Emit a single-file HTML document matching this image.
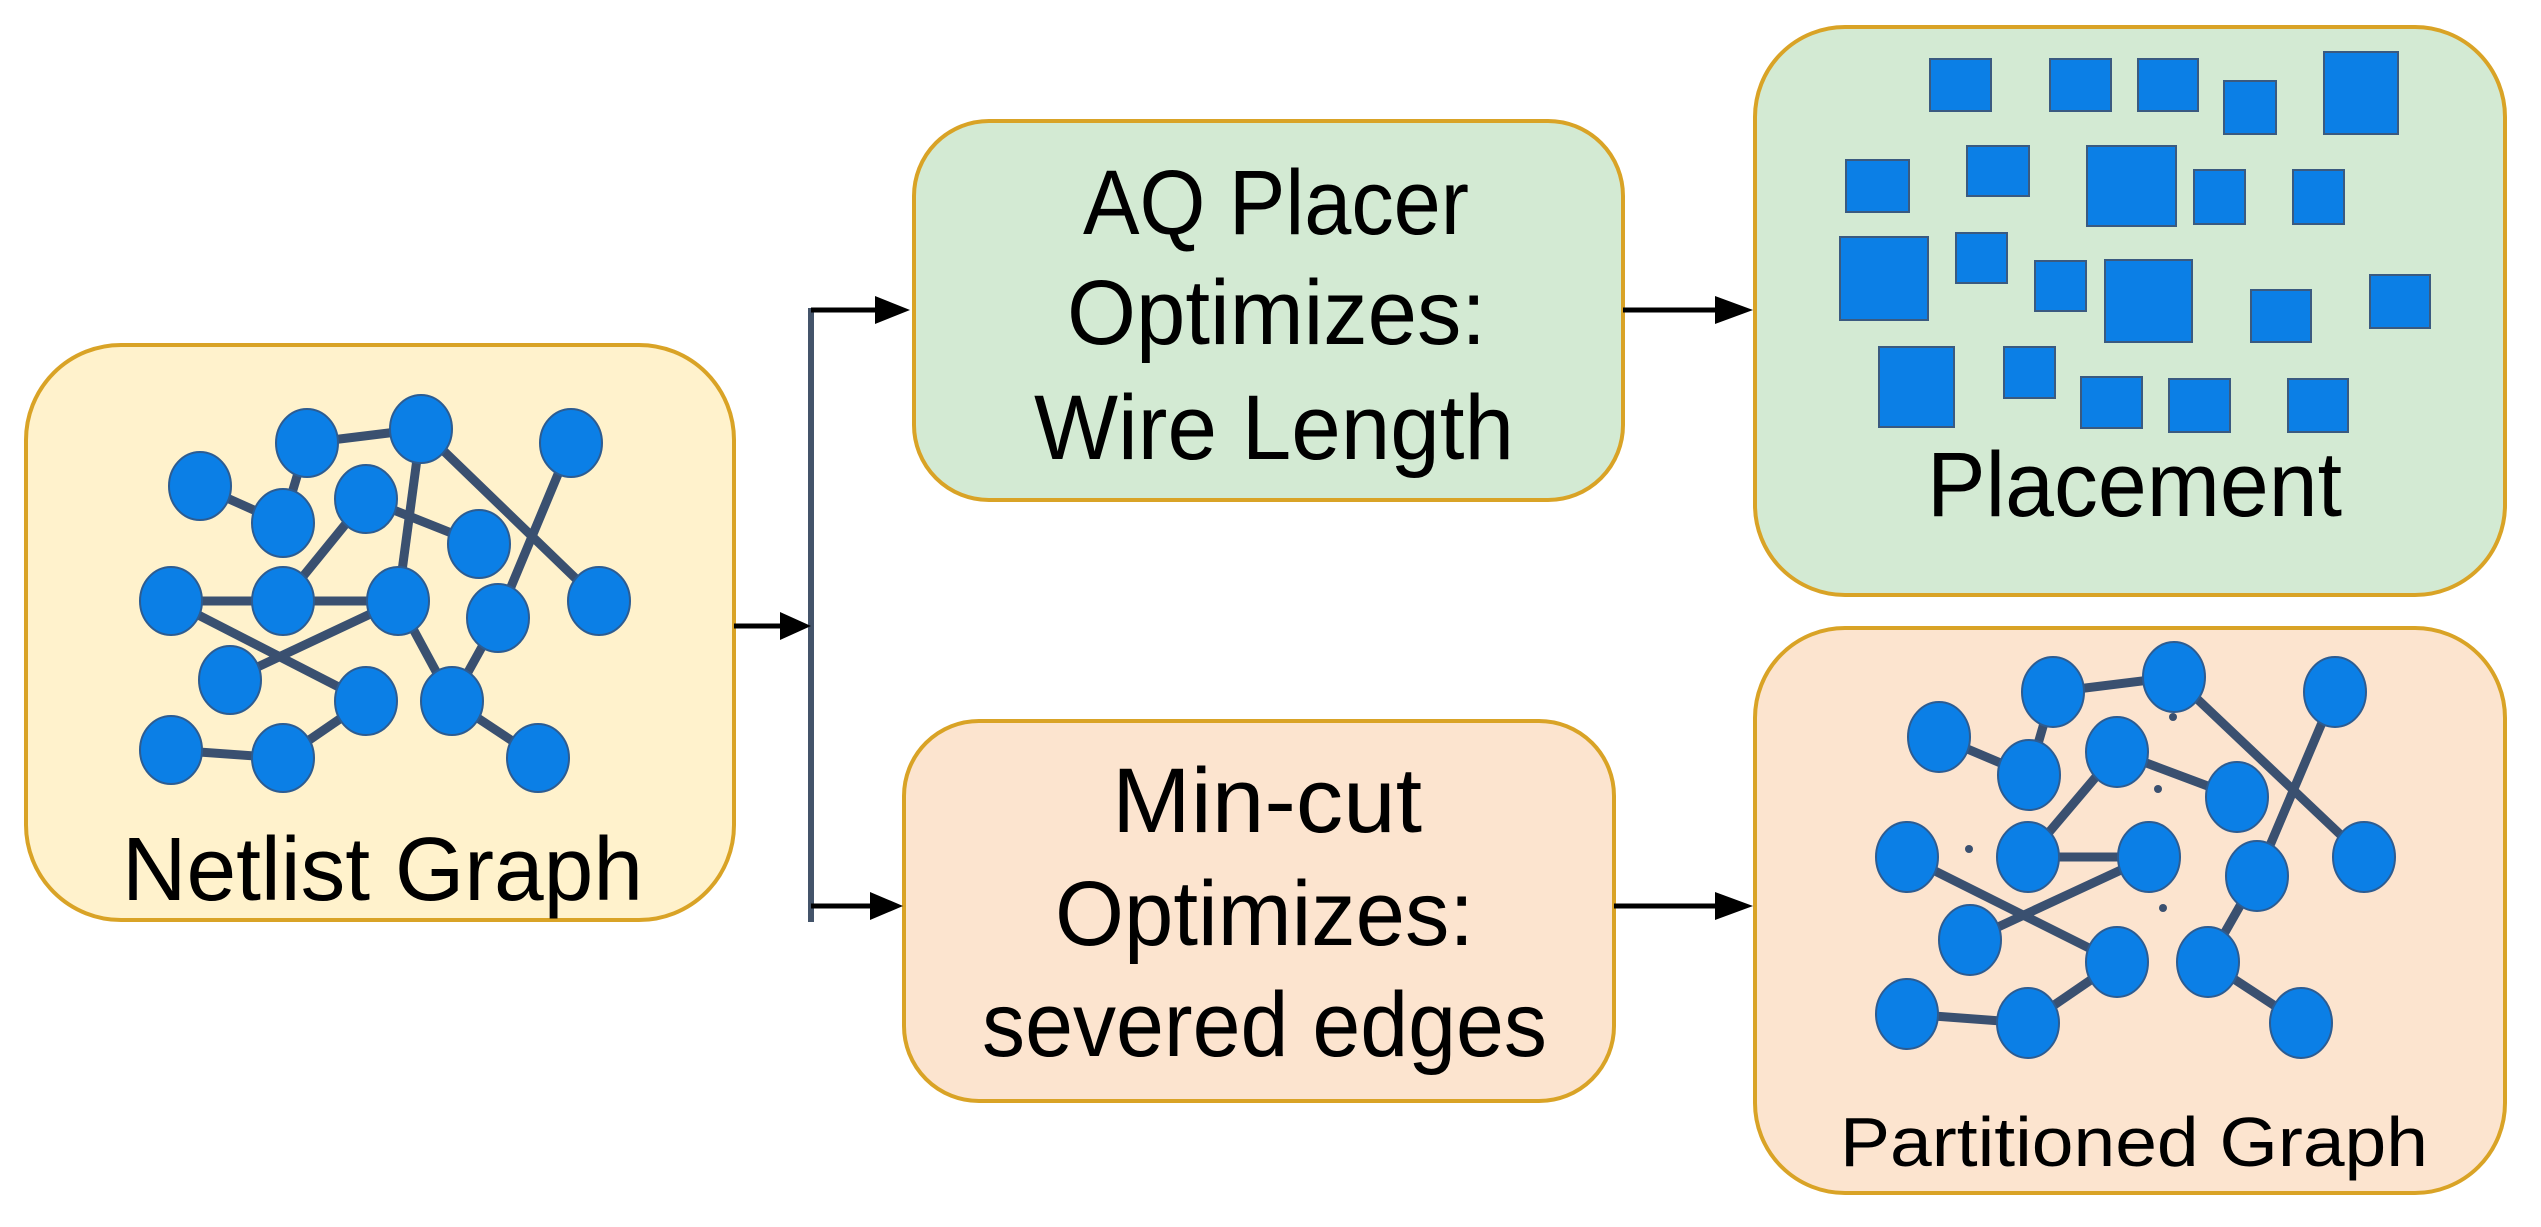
<!DOCTYPE html>
<html><head><meta charset="utf-8"><style>
html,body{margin:0;padding:0;background:#fff;}
svg{display:block;}
text{font-family:"Liberation Sans",sans-serif;fill:#000;}
</style></head><body>
<svg width="2541" height="1227" viewBox="0 0 2541 1227" xmlns="http://www.w3.org/2000/svg">
<!-- boxes -->
<rect x="26" y="345" width="708" height="575" rx="95" fill="#FFF2CC" stroke="#D9A326" stroke-width="4"/>
<rect x="914" y="121" width="709" height="379" rx="75" fill="#D3EAD3" stroke="#D9A326" stroke-width="4"/>
<rect x="904" y="721" width="710" height="380" rx="75" fill="#FCE4CF" stroke="#D9A326" stroke-width="4"/>
<rect x="1755" y="27" width="750" height="568" rx="90" fill="#D3EAD3" stroke="#D9A326" stroke-width="4"/>
<rect x="1755" y="628" width="750" height="565" rx="90" fill="#FCE4CF" stroke="#D9A326" stroke-width="4"/>

<!-- connectors -->
<line x1="811" y1="308" x2="811" y2="922" stroke="#44546A" stroke-width="6"/>
<g stroke="#000" stroke-width="5" fill="#000">
<line x1="734" y1="626" x2="785" y2="626"/><polygon points="780,612 811,626 780,640" stroke="none"/>
<line x1="811" y1="310" x2="880" y2="310"/><polygon points="875,296 910,310 875,324" stroke="none"/>
<line x1="811" y1="906" x2="875" y2="906"/><polygon points="870,892 903,906 870,920" stroke="none"/>
<line x1="1623" y1="310" x2="1720" y2="310"/><polygon points="1715,296 1753,310 1715,324" stroke="none"/>
<line x1="1614" y1="906" x2="1720" y2="906"/><polygon points="1715,892 1753,906 1715,920" stroke="none"/>
</g>

<!-- netlist graph -->
<g stroke="#3A5070" stroke-width="9">
<line x1="200" y1="486" x2="283" y2="523"/><line x1="283" y1="523" x2="307" y2="443"/>
<line x1="307" y1="443" x2="421" y2="429"/><line x1="421" y1="429" x2="398" y2="601"/>
<line x1="421" y1="429" x2="599" y2="601"/><line x1="571" y1="443" x2="498" y2="618"/>
<line x1="366" y1="499" x2="479" y2="544"/><line x1="366" y1="499" x2="283" y2="601"/>
<line x1="171" y1="601" x2="283" y2="601"/><line x1="283" y1="601" x2="398" y2="601"/>
<line x1="171" y1="601" x2="366" y2="701"/><line x1="398" y1="601" x2="230" y2="680"/>
<line x1="398" y1="601" x2="452" y2="701"/><line x1="498" y1="618" x2="452" y2="701"/>
<line x1="452" y1="701" x2="538" y2="758"/><line x1="171" y1="750" x2="283" y2="758"/>
<line x1="283" y1="758" x2="366" y2="701"/>
</g>
<g fill="#0B7FE6" stroke="#2C5C92" stroke-width="2">
<ellipse cx="200" cy="486" rx="31" ry="34"/><ellipse cx="307" cy="443" rx="31" ry="34"/><ellipse cx="421" cy="429" rx="31" ry="34"/>
<ellipse cx="571" cy="443" rx="31" ry="34"/><ellipse cx="283" cy="523" rx="31" ry="34"/><ellipse cx="366" cy="499" rx="31" ry="34"/>
<ellipse cx="479" cy="544" rx="31" ry="34"/><ellipse cx="171" cy="601" rx="31" ry="34"/><ellipse cx="283" cy="601" rx="31" ry="34"/>
<ellipse cx="398" cy="601" rx="31" ry="34"/><ellipse cx="498" cy="618" rx="31" ry="34"/><ellipse cx="599" cy="601" rx="31" ry="34"/>
<ellipse cx="230" cy="680" rx="31" ry="34"/><ellipse cx="366" cy="701" rx="31" ry="34"/><ellipse cx="452" cy="701" rx="31" ry="34"/>
<ellipse cx="171" cy="750" rx="31" ry="34"/><ellipse cx="283" cy="758" rx="31" ry="34"/><ellipse cx="538" cy="758" rx="31" ry="34"/>
</g>
<text x="122" y="900" font-size="90" textLength="521" lengthAdjust="spacingAndGlyphs">Netlist Graph</text>

<!-- middle texts -->
<g font-size="92">
<text x="1083" y="234" textLength="386" lengthAdjust="spacingAndGlyphs">AQ Placer</text>
<text x="1067" y="344" textLength="419" lengthAdjust="spacingAndGlyphs">Optimizes:</text>
<text x="1034" y="459" textLength="480" lengthAdjust="spacingAndGlyphs">Wire Length</text>
<text x="1112" y="832" textLength="310" lengthAdjust="spacingAndGlyphs">Min-cut</text>
<text x="1055" y="945" textLength="419" lengthAdjust="spacingAndGlyphs">Optimizes:</text>
<text x="982" y="1056" textLength="565" lengthAdjust="spacingAndGlyphs">severed edges</text>
</g>

<!-- placement -->
<g fill="#0B7FE6" stroke="#3A5A80" stroke-width="2">
<rect x="1930" y="59" width="61" height="52"/><rect x="2050" y="59" width="61" height="52"/>
<rect x="2138" y="59" width="60" height="52"/><rect x="2224" y="81" width="52" height="53"/>
<rect x="2324" y="52" width="74" height="82"/><rect x="1846" y="160" width="63" height="52"/>
<rect x="1967" y="146" width="62" height="50"/><rect x="2087" y="146" width="89" height="80"/>
<rect x="2194" y="170" width="51" height="54"/><rect x="2293" y="170" width="51" height="54"/>
<rect x="1840" y="237" width="88" height="83"/><rect x="1956" y="233" width="51" height="50"/>
<rect x="2035" y="261" width="51" height="50"/><rect x="2105" y="260" width="87" height="82"/>
<rect x="2251" y="290" width="60" height="52"/><rect x="2370" y="275" width="60" height="53"/>
<rect x="1879" y="347" width="75" height="80"/><rect x="2004" y="347" width="51" height="51"/>
<rect x="2081" y="377" width="61" height="51"/><rect x="2169" y="379" width="61" height="53"/>
<rect x="2288" y="379" width="60" height="53"/>
</g>
<text x="1927" y="516" font-size="92" textLength="415" lengthAdjust="spacingAndGlyphs">Placement</text>

<!-- partitioned graph -->
<g stroke="#3A5070" stroke-width="9">
<line x1="1939" y1="737" x2="2029" y2="775"/><line x1="2029" y1="775" x2="2053" y2="692"/>
<line x1="2053" y1="692" x2="2174" y2="677"/><line x1="2174" y1="677" x2="2364" y2="857"/>
<line x1="2335" y1="692" x2="2257" y2="876"/><line x1="2117" y1="752" x2="2237" y2="797"/>
<line x1="2117" y1="752" x2="2028" y2="857"/><line x1="2028" y1="857" x2="2149" y2="857"/>
<line x1="1907" y1="857" x2="2117" y2="962"/><line x1="2149" y1="857" x2="1970" y2="940"/>
<line x1="2257" y1="876" x2="2208" y2="962"/><line x1="2208" y1="962" x2="2301" y2="1023"/>
<line x1="1907" y1="1014" x2="2028" y2="1023"/><line x1="2028" y1="1023" x2="2117" y2="962"/>
</g>
<g fill="#3A5070">
<circle cx="2173" cy="717" r="4"/><circle cx="2158" cy="789" r="4"/><circle cx="1969" cy="849" r="4"/>
<circle cx="2163" cy="908" r="4"/><circle cx="2149" cy="825" r="4"/>
</g>
<g fill="#0B7FE6" stroke="#2C5C92" stroke-width="2">
<ellipse cx="2053" cy="692" rx="31" ry="35"/><ellipse cx="2174" cy="677" rx="31" ry="35"/><ellipse cx="2335" cy="692" rx="31" ry="35"/>
<ellipse cx="1939" cy="737" rx="31" ry="35"/><ellipse cx="2029" cy="775" rx="31" ry="35"/><ellipse cx="2117" cy="752" rx="31" ry="35"/>
<ellipse cx="2237" cy="797" rx="31" ry="35"/><ellipse cx="1907" cy="857" rx="31" ry="35"/><ellipse cx="2028" cy="857" rx="31" ry="35"/>
<ellipse cx="2149" cy="857" rx="31" ry="35"/><ellipse cx="2257" cy="876" rx="31" ry="35"/><ellipse cx="2364" cy="857" rx="31" ry="35"/>
<ellipse cx="1970" cy="940" rx="31" ry="35"/><ellipse cx="2117" cy="962" rx="31" ry="35"/><ellipse cx="2208" cy="962" rx="31" ry="35"/>
<ellipse cx="1907" cy="1014" rx="31" ry="35"/><ellipse cx="2028" cy="1023" rx="31" ry="35"/><ellipse cx="2301" cy="1023" rx="31" ry="35"/>
</g>
<text x="1840" y="1166" font-size="70" textLength="588" lengthAdjust="spacingAndGlyphs">Partitioned Graph</text>
</svg>
</body></html>
